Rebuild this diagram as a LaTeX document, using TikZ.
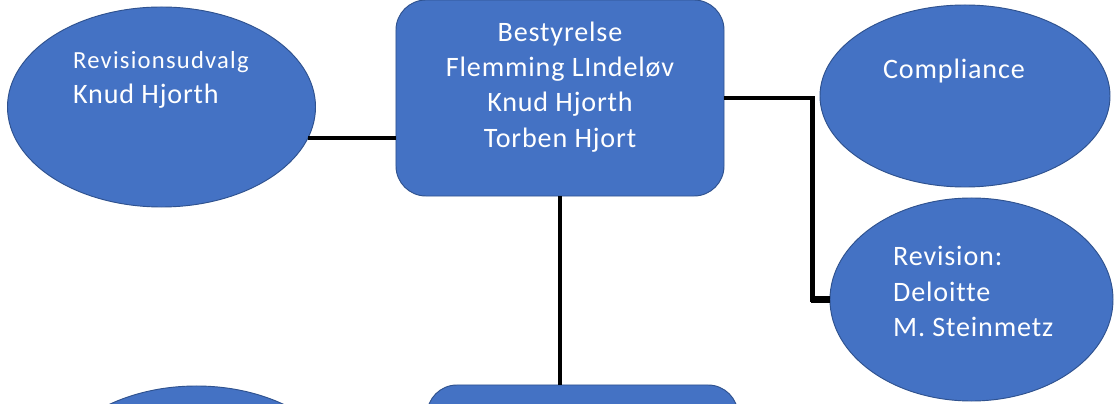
\documentclass[tikz,border=0pt]{standalone}
\usepackage{fontspec}
\setmainfont[LetterSpace=3,Ligatures=NoCommon]{Carlito}
\newfontfamily\widefont[LetterSpace=5,Ligatures=NoCommon]{Carlito}
\usetikzlibrary{shapes.geometric,calc}

\definecolor{orgblue}{HTML}{4472C4}
\definecolor{orgedge}{HTML}{2F528F}

\begin{document}
\begin{tikzpicture}[x=0.03cm,y=-0.03cm,
  orgoval/.style={ellipse,draw=orgedge,line width=0.8pt,fill=orgblue,inner sep=0pt},
  orgbox/.style={rectangle,rounded corners=0.9cm,draw=orgedge,line width=0.8pt,fill=orgblue,inner sep=0pt},
  orgtext/.style={text=white,font=\fontsize{24}{30}\selectfont,inner sep=0pt},
  conn/.style={line width=3.6pt,black}]
\clip (0,0) rectangle (1114,404);
\fill[white] (0,0) rectangle (1114,404);
% shapes
\node[orgoval,minimum width=9.24cm,minimum height=6cm] (revudv) at (161.5,107) {};
\node[orgbox,minimum width=9.84cm,minimum height=5.88cm] (bestyr) at (560,98) {};
\node[orgoval,minimum width=8.7cm,minimum height=5.46cm] (compl) at (965,96) {};
\node[orgoval,minimum width=8.49cm,minimum height=6.09cm] (revis) at (971.5,299.5) {};
\node[orgoval,minimum width=9.24cm,minimum height=6.3cm] (lowoval) at (196.5,491) {};
\node[orgbox,minimum width=9.33cm,minimum height=5.88cm] (lowbox) at (582.5,483) {};
% texts
\node[orgtext,anchor=west,align=left] (revudv-txt) at (73,80)
  {{\widefont\fontsize{21}{27}\selectfont Revisionsudvalg}\\Knud Hjorth};
\node[orgtext,align=center] (bestyr-txt) at (560,87)
  {Bestyrelse\\Flemming LIndeløv\\Knud Hjorth\\Torben Hjort};
\node[orgtext] (compl-txt) at (954,71) {Compliance};
\node[orgtext,anchor=west,align=left,font=\fontsize{24}{30.5}\selectfont] (revis-txt) at (893,291.5)
  {Revision:\\Deloitte\\M. Steinmetz};
% connectors
\draw[conn] (revudv.-12) -- (revudv.-12 -| bestyr.west);
\draw[conn] (bestyr.east) -- ++(88,0) |- (revis.west);
\draw[line width=5.4pt] (revis.west) -- ++(-19,0);
\draw[conn] (bestyr.south) -- (bestyr.south |- lowbox.north);
\end{tikzpicture}
\end{document}
